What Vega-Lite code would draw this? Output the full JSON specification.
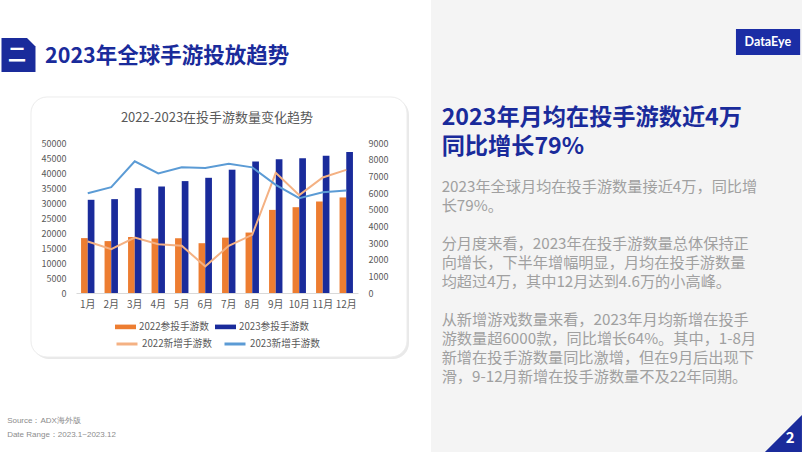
{
  "$schema": "https://vega.github.io/schema/vega-lite/v6.json",
  "padding": 0,
  "background": "#ffffff",
  "spacing": 0,
  "config": {
    "font": "Noto Sans CJK SC",
    "view": {"stroke": null},
    "concat": {"spacing": 0},
    "axis": {"grid": false},
    "legend": {"layout": {"bottom": {"direction": "vertical", "anchor": "middle", "margin": -1}}}
  },
  "resolve": {"legend": {"fill": "independent", "stroke": "independent"}},
  "datasets": {
    "header": [
      {"part": "badge", "text": "二"},
      {"part": "title", "text": "2023年全球手游投放趋势"}
    ],
    "bars": [
      {"month": "1月", "series": "2022参投手游数", "value": 18300},
      {"month": "2月", "series": "2022参投手游数", "value": 17300},
      {"month": "3月", "series": "2022参投手游数", "value": 18700},
      {"month": "4月", "series": "2022参投手游数", "value": 18150},
      {"month": "5月", "series": "2022参投手游数", "value": 18250},
      {"month": "6月", "series": "2022参投手游数", "value": 16600},
      {"month": "7月", "series": "2022参投手游数", "value": 18450},
      {"month": "8月", "series": "2022参投手游数", "value": 20150},
      {"month": "9月", "series": "2022参投手游数", "value": 27700},
      {"month": "10月", "series": "2022参投手游数", "value": 28600},
      {"month": "11月", "series": "2022参投手游数", "value": 30500},
      {"month": "12月", "series": "2022参投手游数", "value": 31850},
      {"month": "1月", "series": "2023参投手游数", "value": 31070},
      {"month": "2月", "series": "2023参投手游数", "value": 31290},
      {"month": "3月", "series": "2023参投手游数", "value": 34950},
      {"month": "4月", "series": "2023参投手游数", "value": 35500},
      {"month": "5月", "series": "2023参投手游数", "value": 37300},
      {"month": "6月", "series": "2023参投手游数", "value": 38400},
      {"month": "7月", "series": "2023参投手游数", "value": 41100},
      {"month": "8月", "series": "2023参投手游数", "value": 43850},
      {"month": "9月", "series": "2023参投手游数", "value": 44550},
      {"month": "10月", "series": "2023参投手游数", "value": 44900},
      {"month": "11月", "series": "2023参投手游数", "value": 45750},
      {"month": "12月", "series": "2023参投手游数", "value": 47000}
    ],
    "lines": [
      {"month": "1月", "series": "2022新增手游数", "value": 3090},
      {"month": "2月", "series": "2022新增手游数", "value": 2630},
      {"month": "3月", "series": "2022新增手游数", "value": 3330},
      {"month": "4月", "series": "2022新增手游数", "value": 2930},
      {"month": "5月", "series": "2022新增手游数", "value": 2830},
      {"month": "6月", "series": "2022新增手游数", "value": 1600},
      {"month": "7月", "series": "2022新增手游数", "value": 2830},
      {"month": "8月", "series": "2022新增手游数", "value": 3490},
      {"month": "9月", "series": "2022新增手游数", "value": 7210},
      {"month": "10月", "series": "2022新增手游数", "value": 5870},
      {"month": "11月", "series": "2022新增手游数", "value": 6930},
      {"month": "12月", "series": "2022新增手游数", "value": 7390},
      {"month": "1月", "series": "2023新增手游数", "value": 5990},
      {"month": "2月", "series": "2023新增手游数", "value": 6350},
      {"month": "3月", "series": "2023新增手游数", "value": 7900},
      {"month": "4月", "series": "2023新增手游数", "value": 7170},
      {"month": "5月", "series": "2023新增手游数", "value": 7550},
      {"month": "6月", "series": "2023新增手游数", "value": 7500},
      {"month": "7月", "series": "2023新增手游数", "value": 7760},
      {"month": "8月", "series": "2023新增手游数", "value": 7540},
      {"month": "9月", "series": "2023新增手游数", "value": 6490},
      {"month": "10月", "series": "2023新增手游数", "value": 5690},
      {"month": "11月", "series": "2023新增手游数", "value": 6050},
      {"month": "12月", "series": "2023新增手游数", "value": 6150}
    ],
    "footer": [
      {"line": 1, "text": "Source：ADX海外版"},
      {"line": 2, "text": "Date Range：2023.1~2023.12"}
    ],
    "headlines": [
      {"line": 1, "text": "2023年月均在投手游数近4万"},
      {"line": 2, "text": "同比增长79%"}
    ],
    "paragraphs": [
      {"line": 1, "text": "2023年全球月均在投手游数量接近4万，同比增"},
      {"line": 2, "text": "长79%。"},
      {"line": 4, "text": "分月度来看，2023年在投手游数量总体保持正"},
      {"line": 5, "text": "向增长，下半年增幅明显，月均在投手游数量"},
      {"line": 6, "text": "均超过4万，其中12月达到4.6万的小高峰。"},
      {"line": 8, "text": "从新增游戏数量来看，2023年月均新增在投手"},
      {"line": 9, "text": "游数量超6000款，同比增长64%。其中，1-8月"},
      {"line": 10, "text": "新增在投手游数量同比激增，但在9月后出现下"},
      {"line": 11, "text": "滑，9-12月新增在投手游数量不及22年同期。"}
    ],
    "brand": [{"logo": "DataEye", "page": "2"}]
  },
  "hconcat": [
    {
      "spacing": 0,
      "bounds": "flush",
      "resolve": {"legend": {"fill": "independent", "stroke": "independent"}},
      "vconcat": [
        {
          "width": 355,
          "height": 142.7,
          "layer": [
            {
              "data": {"name": "brand"},
              "mark": {"type": "rect", "fill": "#e9e9e9", "cornerRadius": 16, "clip": false},
              "encoding": {
                "x": {"datum": -12.11, "type": "quantitative", "scale": {"domain": [0, 100]}, "axis": null},
                "x2": {"datum": 93.8},
                "y": {"datum": 69.38, "type": "quantitative", "scale": {"domain": [0, 100], "reverse": true, "nice": false}, "axis": null},
                "y2": {"datum": 251.58}
              }
            },
            {
              "data": {"name": "brand"},
              "mark": {"type": "rect", "fill": "#ffffff", "stroke": "#ececec", "strokeWidth": 1, "cornerRadius": 16, "clip": false},
              "encoding": {
                "x": {"datum": -12.68, "type": "quantitative"},
                "x2": {"datum": 93.24},
                "y": {"datum": 67.97, "type": "quantitative"},
                "y2": {"datum": 250.18}
              }
            },
            {
              "data": {"name": "header"},
              "transform": [{"filter": "datum.part === 'badge'"}],
              "mark": {"type": "point", "shape": "M-1,-1 L0.5,-1 L1,-0.5 L1,1 L-1,1 Z", "filled": true, "fill": "#1a2b9b", "opacity": 1, "size": 1156, "strokeWidth": 0},
              "encoding": {
                "x": {"datum": -16.2, "type": "quantitative"},
                "y": {"datum": 38.54, "type": "quantitative"}
              }
            },
            {
              "data": {"name": "header"},
              "transform": [{"filter": "datum.part === 'badge'"}],
              "mark": {"type": "text", "color": "#ffffff", "fontSize": 18, "fontWeight": "bold", "align": "center", "baseline": "middle"},
              "encoding": {
                "x": {"datum": -16.6, "type": "quantitative"},
                "y": {"datum": 39.24, "type": "quantitative"},
                "text": {"field": "text"}
              }
            },
            {
              "data": {"name": "header"},
              "transform": [{"filter": "datum.part === 'title'"}],
              "mark": {"type": "text", "color": "#1a2b9b", "fontSize": 21.5, "fontWeight": "bold", "align": "left", "baseline": "middle"},
              "encoding": {
                "x": {"datum": -8.73, "type": "quantitative"},
                "y": {"datum": 39.94, "type": "quantitative"},
                "text": {"field": "text"}
              }
            }
          ]
        },
        {
          "width": 282,
          "height": 150,
          "title": {"text": "2022-2023在投手游数量变化趋势", "fontSize": 13, "fontWeight": "normal", "color": "#595959", "offset": 14, "anchor": "middle"},
          "layer": [
            {
              "data": {"name": "bars"},
              "mark": {"type": "bar"},
              "encoding": {
                "x": {"field": "month", "type": "ordinal", "sort": null, "scale": {"paddingInner": 0.43, "paddingOuter": 0.215},
                  "axis": {"title": null, "labelAngle": 0, "ticks": false, "domainColor": "#d9d9d9", "domainWidth": 1, "labelColor": "#595959", "labelFontSize": 10, "labelPadding": 6}},
                "xOffset": {"field": "series", "type": "nominal", "sort": null, "scale": {"paddingInner": 0, "paddingOuter": 0}},
                "y": {"field": "value", "type": "quantitative", "scale": {"domain": [0, 50000], "nice": false},
                  "axis": {"title": null, "values": [0, 5000, 10000, 15000, 20000, 25000, 30000, 35000, 40000, 45000, 50000], "format": "d", "ticks": false, "domain": false, "grid": false, "labelColor": "#595959", "labelFontSize": 9, "labelPadding": 10, "minExtent": 76}},
                "fill": {"field": "series", "type": "nominal", "sort": null,
                  "scale": {"domain": ["2022参投手游数", "2023参投手游数"], "range": ["#ed7d31", "#1a2b9b"]},
                  "legend": {"orient": "bottom", "direction": "horizontal", "title": null, "symbolType": "M-1,-0.22 L1,-0.22 L1,0.22 L-1,0.22 Z", "symbolSize": 441, "symbolStrokeWidth": 0, "labelFontSize": 9.7, "labelColor": "#595959", "labelOffset": 3, "columnPadding": 6, "offset": 7}}
              }
            },
            {
              "data": {"name": "lines"},
              "mark": {"type": "line", "strokeWidth": 2},
              "encoding": {
                "x": {"field": "month", "type": "ordinal", "sort": null},
                "y": {"field": "value", "type": "quantitative", "scale": {"domain": [0, 9000], "nice": false},
                  "axis": {"orient": "right", "title": null, "values": [0, 1000, 2000, 3000, 4000, 5000, 6000, 7000, 8000, 9000], "format": "d", "ticks": false, "domain": false, "grid": false, "labelColor": "#595959", "labelFontSize": 9, "labelPadding": 10}},
                "stroke": {"field": "series", "type": "nominal", "sort": null,
                  "scale": {"domain": ["2022新增手游数", "2023新增手游数"], "range": ["#f4b183", "#5b9bd5"]},
                  "legend": {"orient": "bottom", "direction": "horizontal", "title": null, "symbolType": "stroke", "symbolSize": 441, "symbolStrokeWidth": 3, "labelFontSize": 9.7, "labelColor": "#595959", "labelOffset": 3, "columnPadding": 6, "offset": 7}}
              }
            }
          ],
          "resolve": {"scale": {"y": "independent"}}
        },
        {
          "width": 355,
          "height": 159.3,
          "data": {"name": "footer"},
          "mark": {"type": "text", "align": "left", "baseline": "middle", "fontSize": 8, "color": "#8c8c8c", "font": "Liberation Sans"},
          "encoding": {
            "x": {"datum": -19.4, "type": "quantitative", "scale": {"domain": [0, 100]}, "axis": null},
            "y": {"field": "line", "type": "quantitative", "scale": {"domain": [-8.164, 3.215], "reverse": true, "nice": false, "zero": false}, "axis": null},
            "text": {"field": "text"}
          }
        }
      ]
    },
    {
      "width": 371,
      "height": 452,
      "view": {"fill": "#f4f4f4", "stroke": null},
      "layer": [
        {
          "data": {"name": "headlines"},
          "mark": {"type": "text", "align": "left", "baseline": "middle", "fontSize": 23.2, "fontWeight": "bold", "color": "#1a2b9b"},
          "encoding": {
            "x": {"datum": 2.88, "type": "quantitative", "scale": {"domain": [0, 100]}, "axis": null},
            "y": {"field": "line", "type": "quantitative", "scale": {"domain": [-3.07, 12.52], "reverse": true, "nice": false, "zero": false}, "axis": null},
            "text": {"field": "text"}
          }
        },
        {
          "data": {"name": "paragraphs"},
          "mark": {"type": "text", "align": "left", "baseline": "middle", "fontSize": 15.2, "color": "#a0a0a0"},
          "encoding": {
            "x": {"datum": 2.88, "type": "quantitative", "scale": {"domain": [0, 100]}, "axis": null},
            "y": {"field": "line", "type": "quantitative", "scale": {"domain": [-8.84, 14.95], "reverse": true, "nice": false, "zero": false}, "axis": null},
            "text": {"field": "text"}
          }
        },
        {
          "data": {"name": "brand"},
          "mark": {"type": "rect", "color": "#1b2da5"},
          "encoding": {
            "x": {"datum": 82.2, "type": "quantitative", "scale": {"domain": [0, 100]}, "axis": null},
            "x2": {"datum": 99.5},
            "y": {"datum": 6.42, "type": "quantitative", "scale": {"domain": [0, 100], "reverse": true, "nice": false}, "axis": null},
            "y2": {"datum": 12.17}
          }
        },
        {
          "data": {"name": "brand"},
          "mark": {"type": "text", "align": "center", "baseline": "middle", "fontSize": 12.5, "fontWeight": "bold", "color": "#ffffff", "font": "Lato"},
          "encoding": {
            "x": {"datum": 90.8, "type": "quantitative", "scale": {"domain": [0, 100]}, "axis": null},
            "y": {"datum": 9.3, "type": "quantitative", "scale": {"domain": [0, 100], "reverse": true, "nice": false}, "axis": null},
            "text": {"field": "logo"}
          }
        },
        {
          "data": {"name": "brand"},
          "mark": {"type": "point", "shape": "M1,-1 L1,1 L-1,1 Z", "filled": true, "fill": "#1a2b9b", "opacity": 1, "size": 1369, "strokeWidth": 0},
          "encoding": {
            "x": {"datum": 95.0, "type": "quantitative", "scale": {"domain": [0, 100]}, "axis": null},
            "y": {"datum": 95.9, "type": "quantitative", "scale": {"domain": [0, 100], "reverse": true, "nice": false}, "axis": null}
          }
        },
        {
          "data": {"name": "brand"},
          "mark": {"type": "text", "align": "center", "baseline": "middle", "fontSize": 15, "fontWeight": "bold", "color": "#ffffff"},
          "encoding": {
            "x": {"datum": 96.8, "type": "quantitative", "scale": {"domain": [0, 100]}, "axis": null},
            "y": {"datum": 97.0, "type": "quantitative", "scale": {"domain": [0, 100], "reverse": true, "nice": false}, "axis": null},
            "text": {"field": "page"}
          }
        }
      ],
      "resolve": {"scale": {"y": "independent"}}
    }
  ]
}
